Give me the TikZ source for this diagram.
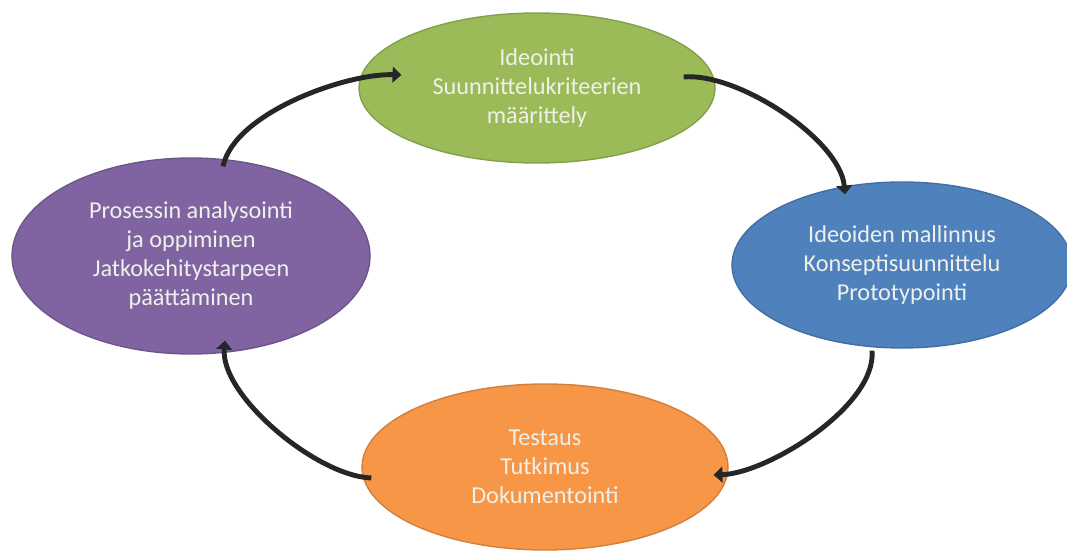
\documentclass[tikz,border=0pt]{standalone}
\usepackage{fontspec}
\setmainfont{Carlito}
\usetikzlibrary{shapes.geometric,arrows.meta,calc}

\definecolor{ideagreen}{RGB}{155,187,89}
\definecolor{ideapurple}{RGB}{128,100,162}
\definecolor{ideablue}{RGB}{79,129,189}
\definecolor{ideaorange}{RGB}{247,150,70}
\definecolor{labeltext}{RGB}{240,240,234}

\begin{document}
\begin{tikzpicture}[x=0.02cm,y=0.02cm,
		phase/.style={ellipse,inner sep=0pt,line width=0.8pt,align=center,
			text=labeltext,font=\fontsize{13.8}{16.5}\selectfont},
		cycarrow/.style={line width=2.8pt,draw=black!85,looseness=0.7,
			-{Triangle[width=9pt,length=5pt]}}]
		\useasboundingbox (0,0) rectangle (1067,557);
		% the four phases
		\node[phase,fill=ideagreen,draw=ideagreen!85!black,minimum width=7.12cm,minimum height=3cm] (green) at (537,469)
			{Ideointi\\Suunnittelukriteerien\\määrittely};
		\node[phase,fill=ideablue,draw=ideablue!85!black,minimum width=6.8cm,minimum height=3.32cm] (blue) at (902,292)
			{Ideoiden mallinnus\\Konseptisuunnittelu\\Prototypointi};
		\node[phase,fill=ideaorange,draw=ideaorange!85!black,minimum width=7.32cm,minimum height=3.32cm] (orange) at (545,90)
			{Testaus\\Tutkimus\\Dokumentointi};
		\node[phase,fill=ideapurple,draw=ideapurple!85!black,minimum width=7.16cm,minimum height=3.92cm] (purple) at (191,301)
			{Prosessin analysointi\\ja oppiminen\\Jatkokehitystarpeen\\päättäminen};
		% curved arrows between the phases
		\draw[cycarrow] ($(purple.north)+(32,-9)$) to[out=78,in=178] ($(green.west)+(43,13)$);
		\draw[cycarrow] ($(green.east)+(-32,11)$) to[out=5,in=95] ($(blue.north)+(-57,-13)$);
		\draw[cycarrow] ($(blue.south)+(-30,-2)$) to[out=-85,in=2] ($(orange.east)+(-15,-8)$);
		\draw[cycarrow] ($(orange.west)+(10,-11)$) to[out=178,in=-95] ($(purple.south)+(34,14)$);
	\end{tikzpicture}
\end{document}
